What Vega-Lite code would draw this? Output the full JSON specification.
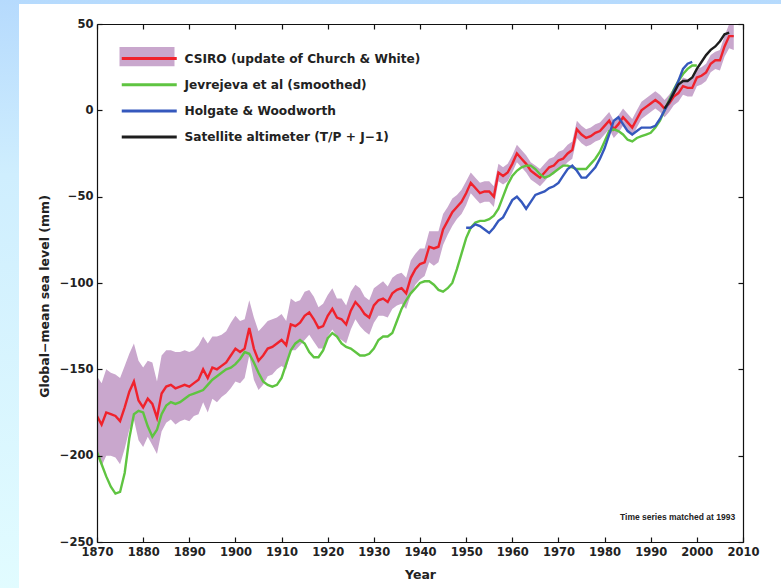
{
  "$schema": "https://vega.github.io/schema/vega-lite/v6.json",
  "width": 646,
  "height": 518,
  "autosize": {"type": "none"},
  "padding": {"left": 97, "top": 24, "right": 38, "bottom": 46},
  "background": "#cdeeff",
  "config": {
    "font": "DejaVu Sans",
    "view": {"stroke": null},
    "axis": {"zindex": 2, "domainColor": "#111", "domainWidth": 1.2, "tickColor": "#111", "tickWidth": 1.2, "labelFont": "DejaVu Sans", "labelFontWeight": "bold", "labelFontSize": 11.5, "labelColor": "#222", "titleFont": "DejaVu Sans", "titleFontWeight": "bold", "titleFontSize": 12.5, "titleColor": "#222", "grid": false, "labelFlush": false, "labelOverlap": false}
  },
  "datasets": {
    "sea": [
      {"s":"CSIRO","year":1870,"v":-177,"lo":-200,"hi":-154},
      {"s":"CSIRO","year":1871,"v":-182,"lo":-206,"hi":-158},
      {"s":"CSIRO","year":1872,"v":-175,"lo":-200,"hi":-150},
      {"s":"CSIRO","year":1873,"v":-176,"lo":-200,"hi":-152},
      {"s":"CSIRO","year":1874,"v":-177,"lo":-201,"hi":-153},
      {"s":"CSIRO","year":1875,"v":-180,"lo":-205,"hi":-155},
      {"s":"CSIRO","year":1876,"v":-172,"lo":-196,"hi":-148},
      {"s":"CSIRO","year":1877,"v":-163,"lo":-185,"hi":-141},
      {"s":"CSIRO","year":1878,"v":-157,"lo":-179,"hi":-135},
      {"s":"CSIRO","year":1879,"v":-168,"lo":-191,"hi":-145},
      {"s":"CSIRO","year":1880,"v":-172,"lo":-195,"hi":-149},
      {"s":"CSIRO","year":1881,"v":-167,"lo":-189,"hi":-145},
      {"s":"CSIRO","year":1882,"v":-170,"lo":-194,"hi":-146},
      {"s":"CSIRO","year":1883,"v":-178,"lo":-199,"hi":-157},
      {"s":"CSIRO","year":1884,"v":-164,"lo":-186,"hi":-142},
      {"s":"CSIRO","year":1885,"v":-160,"lo":-181,"hi":-139},
      {"s":"CSIRO","year":1886,"v":-159,"lo":-179,"hi":-139},
      {"s":"CSIRO","year":1887,"v":-161,"lo":-182,"hi":-140},
      {"s":"CSIRO","year":1888,"v":-160,"lo":-180,"hi":-140},
      {"s":"CSIRO","year":1889,"v":-159,"lo":-179,"hi":-139},
      {"s":"CSIRO","year":1890,"v":-160,"lo":-180,"hi":-140},
      {"s":"CSIRO","year":1891,"v":-158,"lo":-177,"hi":-139},
      {"s":"CSIRO","year":1892,"v":-156,"lo":-176,"hi":-136},
      {"s":"CSIRO","year":1893,"v":-150,"lo":-169,"hi":-131},
      {"s":"CSIRO","year":1894,"v":-155,"lo":-175,"hi":-135},
      {"s":"CSIRO","year":1895,"v":-149,"lo":-167,"hi":-131},
      {"s":"CSIRO","year":1896,"v":-150,"lo":-169,"hi":-131},
      {"s":"CSIRO","year":1897,"v":-148,"lo":-166,"hi":-130},
      {"s":"CSIRO","year":1898,"v":-146,"lo":-164,"hi":-128},
      {"s":"CSIRO","year":1899,"v":-142,"lo":-161,"hi":-123},
      {"s":"CSIRO","year":1900,"v":-138,"lo":-157,"hi":-119},
      {"s":"CSIRO","year":1901,"v":-140,"lo":-158,"hi":-122},
      {"s":"CSIRO","year":1902,"v":-138,"lo":-155,"hi":-121},
      {"s":"CSIRO","year":1903,"v":-126,"lo":-142,"hi":-110},
      {"s":"CSIRO","year":1904,"v":-138,"lo":-156,"hi":-120},
      {"s":"CSIRO","year":1905,"v":-145,"lo":-162,"hi":-128},
      {"s":"CSIRO","year":1906,"v":-142,"lo":-159,"hi":-125},
      {"s":"CSIRO","year":1907,"v":-138,"lo":-154,"hi":-122},
      {"s":"CSIRO","year":1908,"v":-137,"lo":-153,"hi":-121},
      {"s":"CSIRO","year":1909,"v":-135,"lo":-150,"hi":-120},
      {"s":"CSIRO","year":1910,"v":-133,"lo":-148,"hi":-118},
      {"s":"CSIRO","year":1911,"v":-136,"lo":-150,"hi":-122},
      {"s":"CSIRO","year":1912,"v":-124,"lo":-139,"hi":-109},
      {"s":"CSIRO","year":1913,"v":-125,"lo":-139,"hi":-111},
      {"s":"CSIRO","year":1914,"v":-123,"lo":-136,"hi":-110},
      {"s":"CSIRO","year":1915,"v":-119,"lo":-133,"hi":-105},
      {"s":"CSIRO","year":1916,"v":-117,"lo":-130,"hi":-104},
      {"s":"CSIRO","year":1917,"v":-121,"lo":-134,"hi":-108},
      {"s":"CSIRO","year":1918,"v":-126,"lo":-138,"hi":-114},
      {"s":"CSIRO","year":1919,"v":-125,"lo":-138,"hi":-112},
      {"s":"CSIRO","year":1920,"v":-119,"lo":-131,"hi":-107},
      {"s":"CSIRO","year":1921,"v":-115,"lo":-127,"hi":-103},
      {"s":"CSIRO","year":1922,"v":-120,"lo":-131,"hi":-109},
      {"s":"CSIRO","year":1923,"v":-121,"lo":-133,"hi":-109},
      {"s":"CSIRO","year":1924,"v":-124,"lo":-135,"hi":-113},
      {"s":"CSIRO","year":1925,"v":-116,"lo":-127,"hi":-105},
      {"s":"CSIRO","year":1926,"v":-111,"lo":-121,"hi":-101},
      {"s":"CSIRO","year":1927,"v":-114,"lo":-125,"hi":-103},
      {"s":"CSIRO","year":1928,"v":-118,"lo":-128,"hi":-108},
      {"s":"CSIRO","year":1929,"v":-120,"lo":-130,"hi":-110},
      {"s":"CSIRO","year":1930,"v":-113,"lo":-123,"hi":-103},
      {"s":"CSIRO","year":1931,"v":-110,"lo":-119,"hi":-101},
      {"s":"CSIRO","year":1932,"v":-109,"lo":-119,"hi":-99},
      {"s":"CSIRO","year":1933,"v":-111,"lo":-120,"hi":-102},
      {"s":"CSIRO","year":1934,"v":-106,"lo":-115,"hi":-97},
      {"s":"CSIRO","year":1935,"v":-104,"lo":-113,"hi":-95},
      {"s":"CSIRO","year":1936,"v":-103,"lo":-112,"hi":-94},
      {"s":"CSIRO","year":1937,"v":-106,"lo":-115,"hi":-97},
      {"s":"CSIRO","year":1938,"v":-97,"lo":-107,"hi":-87},
      {"s":"CSIRO","year":1939,"v":-92,"lo":-101,"hi":-83},
      {"s":"CSIRO","year":1940,"v":-89,"lo":-98,"hi":-80},
      {"s":"CSIRO","year":1941,"v":-88,"lo":-96,"hi":-80},
      {"s":"CSIRO","year":1942,"v":-79,"lo":-88,"hi":-70},
      {"s":"CSIRO","year":1943,"v":-80,"lo":-90,"hi":-70},
      {"s":"CSIRO","year":1944,"v":-79,"lo":-88,"hi":-70},
      {"s":"CSIRO","year":1945,"v":-69,"lo":-78,"hi":-60},
      {"s":"CSIRO","year":1946,"v":-64,"lo":-72,"hi":-56},
      {"s":"CSIRO","year":1947,"v":-59,"lo":-67,"hi":-51},
      {"s":"CSIRO","year":1948,"v":-56,"lo":-63,"hi":-49},
      {"s":"CSIRO","year":1949,"v":-53,"lo":-60,"hi":-46},
      {"s":"CSIRO","year":1950,"v":-48,"lo":-55,"hi":-41},
      {"s":"CSIRO","year":1951,"v":-42,"lo":-48,"hi":-36},
      {"s":"CSIRO","year":1952,"v":-45,"lo":-51,"hi":-39},
      {"s":"CSIRO","year":1953,"v":-48,"lo":-54,"hi":-42},
      {"s":"CSIRO","year":1954,"v":-47,"lo":-53,"hi":-41},
      {"s":"CSIRO","year":1955,"v":-47,"lo":-53,"hi":-41},
      {"s":"CSIRO","year":1956,"v":-50,"lo":-56,"hi":-44},
      {"s":"CSIRO","year":1957,"v":-36,"lo":-41,"hi":-31},
      {"s":"CSIRO","year":1958,"v":-38,"lo":-43,"hi":-33},
      {"s":"CSIRO","year":1959,"v":-36,"lo":-41,"hi":-31},
      {"s":"CSIRO","year":1960,"v":-31,"lo":-36,"hi":-26},
      {"s":"CSIRO","year":1961,"v":-25,"lo":-30,"hi":-20},
      {"s":"CSIRO","year":1962,"v":-28,"lo":-33,"hi":-23},
      {"s":"CSIRO","year":1963,"v":-31,"lo":-36,"hi":-26},
      {"s":"CSIRO","year":1964,"v":-35,"lo":-40,"hi":-30},
      {"s":"CSIRO","year":1965,"v":-37,"lo":-42,"hi":-32},
      {"s":"CSIRO","year":1966,"v":-39,"lo":-44,"hi":-34},
      {"s":"CSIRO","year":1967,"v":-36,"lo":-41,"hi":-31},
      {"s":"CSIRO","year":1968,"v":-33,"lo":-38,"hi":-28},
      {"s":"CSIRO","year":1969,"v":-32,"lo":-37,"hi":-27},
      {"s":"CSIRO","year":1970,"v":-29,"lo":-34,"hi":-24},
      {"s":"CSIRO","year":1971,"v":-28,"lo":-33,"hi":-23},
      {"s":"CSIRO","year":1972,"v":-25,"lo":-30,"hi":-20},
      {"s":"CSIRO","year":1973,"v":-23,"lo":-28,"hi":-18},
      {"s":"CSIRO","year":1974,"v":-11,"lo":-16,"hi":-6},
      {"s":"CSIRO","year":1975,"v":-14,"lo":-19,"hi":-9},
      {"s":"CSIRO","year":1976,"v":-16,"lo":-21,"hi":-11},
      {"s":"CSIRO","year":1977,"v":-15,"lo":-20,"hi":-10},
      {"s":"CSIRO","year":1978,"v":-13,"lo":-18,"hi":-8},
      {"s":"CSIRO","year":1979,"v":-12,"lo":-17,"hi":-7},
      {"s":"CSIRO","year":1980,"v":-9,"lo":-14,"hi":-4},
      {"s":"CSIRO","year":1981,"v":-6,"lo":-11,"hi":-1},
      {"s":"CSIRO","year":1982,"v":-11,"lo":-16,"hi":-6},
      {"s":"CSIRO","year":1983,"v":-8,"lo":-13,"hi":-3},
      {"s":"CSIRO","year":1984,"v":-4,"lo":-9,"hi":1},
      {"s":"CSIRO","year":1985,"v":-7,"lo":-12,"hi":-2},
      {"s":"CSIRO","year":1986,"v":-10,"lo":-15,"hi":-5},
      {"s":"CSIRO","year":1987,"v":-5,"lo":-10,"hi":0},
      {"s":"CSIRO","year":1988,"v":0,"lo":-5,"hi":5},
      {"s":"CSIRO","year":1989,"v":2,"lo":-3,"hi":7},
      {"s":"CSIRO","year":1990,"v":4,"lo":-1,"hi":9},
      {"s":"CSIRO","year":1991,"v":6,"lo":1,"hi":11},
      {"s":"CSIRO","year":1992,"v":4,"lo":-1,"hi":9},
      {"s":"CSIRO","year":1993,"v":1,"lo":-4,"hi":6},
      {"s":"CSIRO","year":1994,"v":4,"lo":-1,"hi":9},
      {"s":"CSIRO","year":1995,"v":8,"lo":3,"hi":13},
      {"s":"CSIRO","year":1996,"v":10,"lo":5,"hi":15},
      {"s":"CSIRO","year":1997,"v":14,"lo":9,"hi":19},
      {"s":"CSIRO","year":1998,"v":13,"lo":8,"hi":18},
      {"s":"CSIRO","year":1999,"v":13,"lo":8,"hi":18},
      {"s":"CSIRO","year":2000,"v":19,"lo":14,"hi":24},
      {"s":"CSIRO","year":2001,"v":20,"lo":15,"hi":25},
      {"s":"CSIRO","year":2002,"v":22,"lo":17,"hi":27},
      {"s":"CSIRO","year":2003,"v":27,"lo":22,"hi":32},
      {"s":"CSIRO","year":2004,"v":29,"lo":24,"hi":34},
      {"s":"CSIRO","year":2005,"v":29,"lo":23,"hi":35},
      {"s":"CSIRO","year":2006,"v":37,"lo":31,"hi":43},
      {"s":"CSIRO","year":2007,"v":43,"lo":36,"hi":50},
      {"s":"CSIRO","year":2008,"v":43,"lo":35,"hi":51},
      {"s":"Jev","year":1870,"v":-198},{"s":"Jev","year":1871,"v":-205},{"s":"Jev","year":1872,"v":-212},{"s":"Jev","year":1873,"v":-218},{"s":"Jev","year":1874,"v":-222},
      {"s":"Jev","year":1875,"v":-221},{"s":"Jev","year":1876,"v":-210},{"s":"Jev","year":1877,"v":-190},{"s":"Jev","year":1878,"v":-176},{"s":"Jev","year":1879,"v":-174},
      {"s":"Jev","year":1880,"v":-175},{"s":"Jev","year":1881,"v":-183},{"s":"Jev","year":1882,"v":-189},{"s":"Jev","year":1883,"v":-185},{"s":"Jev","year":1884,"v":-176},
      {"s":"Jev","year":1885,"v":-171},{"s":"Jev","year":1886,"v":-169},{"s":"Jev","year":1887,"v":-170},{"s":"Jev","year":1888,"v":-169},{"s":"Jev","year":1889,"v":-167},
      {"s":"Jev","year":1890,"v":-165},{"s":"Jev","year":1891,"v":-164},{"s":"Jev","year":1892,"v":-163},{"s":"Jev","year":1893,"v":-162},{"s":"Jev","year":1894,"v":-159},
      {"s":"Jev","year":1895,"v":-156},{"s":"Jev","year":1896,"v":-154},{"s":"Jev","year":1897,"v":-152},{"s":"Jev","year":1898,"v":-150},{"s":"Jev","year":1899,"v":-149},
      {"s":"Jev","year":1900,"v":-147},{"s":"Jev","year":1901,"v":-144},{"s":"Jev","year":1902,"v":-140},{"s":"Jev","year":1903,"v":-141},{"s":"Jev","year":1904,"v":-146},
      {"s":"Jev","year":1905,"v":-152},{"s":"Jev","year":1906,"v":-157},{"s":"Jev","year":1907,"v":-159},{"s":"Jev","year":1908,"v":-160},{"s":"Jev","year":1909,"v":-159},
      {"s":"Jev","year":1910,"v":-155},{"s":"Jev","year":1911,"v":-147},{"s":"Jev","year":1912,"v":-139},{"s":"Jev","year":1913,"v":-135},{"s":"Jev","year":1914,"v":-133},
      {"s":"Jev","year":1915,"v":-135},{"s":"Jev","year":1916,"v":-140},{"s":"Jev","year":1917,"v":-143},{"s":"Jev","year":1918,"v":-143},{"s":"Jev","year":1919,"v":-139},
      {"s":"Jev","year":1920,"v":-132},{"s":"Jev","year":1921,"v":-129},{"s":"Jev","year":1922,"v":-131},{"s":"Jev","year":1923,"v":-135},{"s":"Jev","year":1924,"v":-137},
      {"s":"Jev","year":1925,"v":-138},{"s":"Jev","year":1926,"v":-140},{"s":"Jev","year":1927,"v":-142},{"s":"Jev","year":1928,"v":-142},{"s":"Jev","year":1929,"v":-141},
      {"s":"Jev","year":1930,"v":-138},{"s":"Jev","year":1931,"v":-133},{"s":"Jev","year":1932,"v":-131},{"s":"Jev","year":1933,"v":-131},{"s":"Jev","year":1934,"v":-129},
      {"s":"Jev","year":1935,"v":-122},{"s":"Jev","year":1936,"v":-115},{"s":"Jev","year":1937,"v":-110},{"s":"Jev","year":1938,"v":-106},{"s":"Jev","year":1939,"v":-103},
      {"s":"Jev","year":1940,"v":-100},{"s":"Jev","year":1941,"v":-99},{"s":"Jev","year":1942,"v":-99},{"s":"Jev","year":1943,"v":-101},{"s":"Jev","year":1944,"v":-104},
      {"s":"Jev","year":1945,"v":-105},{"s":"Jev","year":1946,"v":-103},{"s":"Jev","year":1947,"v":-100},{"s":"Jev","year":1948,"v":-92},{"s":"Jev","year":1949,"v":-83},
      {"s":"Jev","year":1950,"v":-74},{"s":"Jev","year":1951,"v":-68},{"s":"Jev","year":1952,"v":-65},{"s":"Jev","year":1953,"v":-64},{"s":"Jev","year":1954,"v":-64},
      {"s":"Jev","year":1955,"v":-63},{"s":"Jev","year":1956,"v":-61},{"s":"Jev","year":1957,"v":-57},{"s":"Jev","year":1958,"v":-50},{"s":"Jev","year":1959,"v":-43},
      {"s":"Jev","year":1960,"v":-38},{"s":"Jev","year":1961,"v":-35},{"s":"Jev","year":1962,"v":-33},{"s":"Jev","year":1963,"v":-32},{"s":"Jev","year":1964,"v":-32},
      {"s":"Jev","year":1965,"v":-34},{"s":"Jev","year":1966,"v":-37},{"s":"Jev","year":1967,"v":-39},{"s":"Jev","year":1968,"v":-38},{"s":"Jev","year":1969,"v":-36},
      {"s":"Jev","year":1970,"v":-34},{"s":"Jev","year":1971,"v":-32},{"s":"Jev","year":1972,"v":-32},{"s":"Jev","year":1973,"v":-33},{"s":"Jev","year":1974,"v":-34},
      {"s":"Jev","year":1975,"v":-34},{"s":"Jev","year":1976,"v":-34},{"s":"Jev","year":1977,"v":-31},{"s":"Jev","year":1978,"v":-28},{"s":"Jev","year":1979,"v":-24},
      {"s":"Jev","year":1980,"v":-18},{"s":"Jev","year":1981,"v":-12},{"s":"Jev","year":1982,"v":-11},{"s":"Jev","year":1983,"v":-12},{"s":"Jev","year":1984,"v":-14},
      {"s":"Jev","year":1985,"v":-17},{"s":"Jev","year":1986,"v":-18},{"s":"Jev","year":1987,"v":-16},{"s":"Jev","year":1988,"v":-15},{"s":"Jev","year":1989,"v":-14},
      {"s":"Jev","year":1990,"v":-13},{"s":"Jev","year":1991,"v":-10},{"s":"Jev","year":1992,"v":-6},{"s":"Jev","year":1993,"v":0},{"s":"Jev","year":1994,"v":6},
      {"s":"Jev","year":1995,"v":12},{"s":"Jev","year":1996,"v":17},{"s":"Jev","year":1997,"v":21},{"s":"Jev","year":1998,"v":24},{"s":"Jev","year":1999,"v":26},
      {"s":"Jev","year":2000,"v":26},
      {"s":"HW","year":1950,"v":-68},{"s":"HW","year":1951,"v":-68},{"s":"HW","year":1952,"v":-66},{"s":"HW","year":1953,"v":-67},{"s":"HW","year":1954,"v":-69},
      {"s":"HW","year":1955,"v":-71},{"s":"HW","year":1956,"v":-68},{"s":"HW","year":1957,"v":-64},{"s":"HW","year":1958,"v":-62},{"s":"HW","year":1959,"v":-57},
      {"s":"HW","year":1960,"v":-52},{"s":"HW","year":1961,"v":-50},{"s":"HW","year":1962,"v":-53},{"s":"HW","year":1963,"v":-57},{"s":"HW","year":1964,"v":-53},
      {"s":"HW","year":1965,"v":-49},{"s":"HW","year":1966,"v":-48},{"s":"HW","year":1967,"v":-47},{"s":"HW","year":1968,"v":-45},{"s":"HW","year":1969,"v":-44},
      {"s":"HW","year":1970,"v":-42},{"s":"HW","year":1971,"v":-38},{"s":"HW","year":1972,"v":-34},{"s":"HW","year":1973,"v":-32},{"s":"HW","year":1974,"v":-35},
      {"s":"HW","year":1975,"v":-39},{"s":"HW","year":1976,"v":-39},{"s":"HW","year":1977,"v":-36},{"s":"HW","year":1978,"v":-33},{"s":"HW","year":1979,"v":-28},
      {"s":"HW","year":1980,"v":-22},{"s":"HW","year":1981,"v":-14},{"s":"HW","year":1982,"v":-6},{"s":"HW","year":1983,"v":-4},{"s":"HW","year":1984,"v":-8},
      {"s":"HW","year":1985,"v":-12},{"s":"HW","year":1986,"v":-14},{"s":"HW","year":1987,"v":-12},{"s":"HW","year":1988,"v":-10},{"s":"HW","year":1989,"v":-10},
      {"s":"HW","year":1990,"v":-10},{"s":"HW","year":1991,"v":-9},{"s":"HW","year":1992,"v":-5},{"s":"HW","year":1993,"v":0},{"s":"HW","year":1994,"v":5},
      {"s":"HW","year":1995,"v":11},{"s":"HW","year":1996,"v":17},{"s":"HW","year":1997,"v":24},{"s":"HW","year":1998,"v":27},{"s":"HW","year":1999,"v":28},
      {"s":"Sat","year":1993,"v":1},{"s":"Sat","year":1994,"v":5},{"s":"Sat","year":1995,"v":10},{"s":"Sat","year":1996,"v":15},{"s":"Sat","year":1997,"v":17},
      {"s":"Sat","year":1998,"v":17},{"s":"Sat","year":1999,"v":19},{"s":"Sat","year":2000,"v":24},{"s":"Sat","year":2001,"v":28},{"s":"Sat","year":2002,"v":32},
      {"s":"Sat","year":2003,"v":35},{"s":"Sat","year":2004,"v":37},{"s":"Sat","year":2005,"v":40},{"s":"Sat","year":2006,"v":44},{"s":"Sat","year":2007,"v":45}
    ]
  },
  "data": {"name": "sea"},
  "resolve": {"axis": {"x": "independent", "y": "independent"}},
  "layer": [
    {
      "mark": {"type": "rect", "clip": false, "fill": {"gradient": "linear", "x1": 0, "y1": 0, "x2": 0, "y2": 1, "stops": [{"offset": 0, "color": "#b3d8fd"}, {"offset": 0.3, "color": "#cfeefe"}, {"offset": 1, "color": "#e3fdff"}]}},
      "data": {"values": [{}]},
      "encoding": {
        "x": {"datum": 1840, "type": "quantitative", "scale": {"domain": [1870, 2010], "nice": false, "zero": false}, "axis": null},
        "x2": {"datum": 2030},
        "y": {"datum": -300, "type": "quantitative", "scale": {"domain": [-250, 50], "nice": false, "zero": false}, "axis": null},
        "y2": {"datum": 75}
      }
    },
    {
      "mark": {"type": "rect", "clip": false, "fill": "white"},
      "data": {"values": [{}]},
      "encoding": {
        "x": {"datum": 1853.1, "type": "quantitative", "axis": null},
        "x2": {"datum": 2030},
        "y": {"datum": -300, "type": "quantitative", "axis": null},
        "y2": {"datum": 61.6}
      }
    },
    {
      "transform": [{"filter": "datum.s == 'CSIRO'"}],
      "mark": {"type": "area", "clip": true, "opacity": 1},
      "encoding": {
        "x": {"field": "year", "type": "quantitative", "title": "Year",
          "axis": {"orient": "bottom", "zindex": 5, "values": [1870,1880,1890,1900,1910,1920,1930,1940,1950,1960,1970,1980,1990,2000,2010], "format": "d", "tickSize": -5, "labelPadding": 9, "titlePadding": 11}},
        "y": {"field": "lo", "type": "quantitative", "title": "Global−mean sea level (mm)",
          "axis": {"orient": "left", "zindex": 5, "values": [-250,-200,-150,-100,-50,0,50], "tickSize": -5, "labelPadding": 9, "titlePadding": 8, "titleY": 272}},
        "y2": {"field": "hi"},
        "fill": {"field": "s", "type": "nominal", "scale": {"domain": ["CSIRO"], "range": ["#c9a7cd"]},
          "legend": {"orient": "none", "legendX": 36, "legendY": 18.5, "title": null, "symbolType": "M-2,-0.7H2V0.7H-2Z", "symbolSize": 756.25, "symbolStrokeWidth": 0, "symbolOpacity": 1, "labelExpr": "''", "labelFontSize": 12, "zindex": 3}}
      }
    },
    {
      "mark": {"type": "line", "clip": true, "strokeWidth": 2.4},
      "encoding": {
        "x": {"field": "year", "type": "quantitative",
          "axis": {"orient": "top", "zindex": 5, "values": [1870,1880,1890,1900,1910,1920,1930,1940,1950,1960,1970,1980,1990,2000,2010], "labels": false, "title": null, "tickSize": -5}},
        "y": {"field": "v", "type": "quantitative",
          "axis": {"orient": "right", "zindex": 5, "values": [-250,-200,-150,-100,-50,0,50], "labels": false, "title": null, "tickSize": -5}},
        "stroke": {"field": "s", "type": "nominal", "sort": null,
          "scale": {"domain": ["CSIRO", "Jev", "HW", "Sat"], "range": ["#f0222c", "#5fc441", "#3558bd", "#1e1e1e"]},
          "legend": {"orient": "none", "legendX": 36.75, "legendY": 19, "title": null, "symbolType": "M-2,0H2", "symbolSize": 756.25, "symbolStrokeWidth": 3, "labelFontSize": 12.2, "labelFontWeight": "bold", "labelColor": "#222", "labelFont": "DejaVu Sans", "labelOffset": 19.75, "labelLimit": 0, "rowPadding": 4.2, "zindex": 4,
            "labelExpr": "datum.label == 'CSIRO' ? 'CSIRO (update of Church & White)' : datum.label == 'Jev' ? 'Jevrejeva et al (smoothed)' : datum.label == 'HW' ? 'Holgate & Woodworth' : 'Satellite altimeter (T/P + J−1)'"}}
      }
    },
    {
      "mark": {"type": "text", "align": "right", "baseline": "middle", "fontSize": 8.5, "fontWeight": "bold", "color": "#222", "font": "Liberation Sans"},
      "data": {"values": [{"t": "Time series matched at 1993"}]},
      "encoding": {
        "x": {"datum": 2008.3, "type": "quantitative", "axis": null},
        "y": {"datum": -235.5, "type": "quantitative", "axis": null},
        "text": {"field": "t"}
      }
    }
  ]
}
